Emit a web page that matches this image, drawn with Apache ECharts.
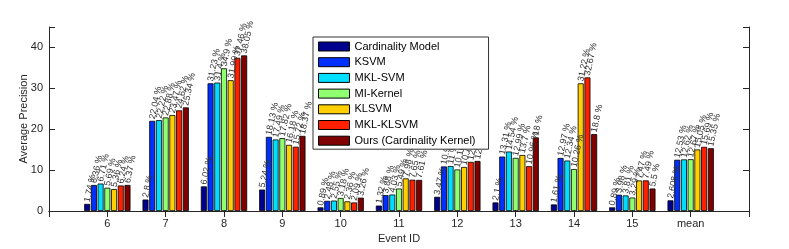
<!DOCTYPE html>
<html>
<head>
<meta charset="utf-8">
<script src="https://cdn.jsdelivr.net/npm/echarts@6/dist/echarts.min.js"></script>
<style>html,body{margin:0;padding:0;background:#fff}#c{width:789px;height:249px}</style>
</head>
<body>
<div id="c"></div>
<script>
const categories = ['6','7','8','9','10','11','12','13','14','15','mean'];
const seriesNames = ['Cardinality Model','KSVM','MKL-SVM','MI-Kernel','KLSVM','MKL-KLSVM','Ours (Cardinality Kernel)'];
const cardinalityModel = [1.74, 2.8, 6.02, 5.24, 0.89, 1.32, 3.47, 2.1, 1.61, 0.89, 2.608];
const ksvm      = [6.36, 22.04, 31.23, 18.13, 2.48, 3.88, 10.9, 13.31, 12.97, 3.98, 12.53];
const mklSvm    = [6.71, 22.22, 31.4, 17.49, 2.55, 4.03, 11, 14.54, 12.34, 3.81, 12.62];
const miKernel  = [5.69, 22.88, 34.9, 17.82, 3.18, 5.49, 10.16, 12.99, 10.26, 3.29, 12.67];
const klsvm     = [5.36, 23.47, 31.99, 16.18, 2.36, 7.98, 10.77, 13.7, 31.22, 7.47, 15.05];
const mklKlsvm  = [6.24, 24.62, 37.46, 15.72, 2.09, 7.65, 12.01, 10.96, 32.67, 7.49, 15.69];
const ours      = [6.37, 25.34, 38.05, 18.37, 3.26, 7.61, 12.24, 18, 18.8, 5.5, 15.35];
const yTicks = [0, 10, 20, 30, 40];

const allValues = [cardinalityModel, ksvm, mklSvm, miKernel, klsvm, mklKlsvm, ours];
const colors = ['#00008F','#0030FF','#00DFFF','#8FFF70','#FFCF00','#FF2000','#800000'];
const font = '"Liberation Sans", Arial, sans-serif';
const axisColor = '#262626';

const axisData = [''].concat(categories, ['']);

const series = allValues.map((vals, i) => ({
  name: seriesNames[i],
  type: 'bar',
  data: [null].concat(vals, [null]),
  barWidth: 6,
  barGap: '12%',
  itemStyle: { color: colors[i], borderColor: '#000', borderWidth: 0.8 },
  label: {
    show: true,
    position: 'top',
    rotate: 78,
    align: 'left',
    verticalAlign: 'middle',
    distance: 2,
    fontSize: 9,
    fontFamily: font,
    color: '#333',
    formatter: p => p.value == null ? '' : p.value + ' %'
  },
  emphasis: { disabled: true },
  animation: false
}));

const chart = echarts.init(document.getElementById('c'), null, { renderer: 'canvas' });
chart.setOption({
  animation: false,
  color: colors,
  grid: { left: 49, right: 40, top: 27, bottom: 36, containLabel: false },
  legend: {
    orient: 'vertical',
    left: 313,
    top: 37,
    padding: [4, 13, 3, 5],
    itemWidth: 31,
    itemHeight: 9,
    itemGap: 4.7,
    icon: 'rect',
    borderColor: '#333',
    borderWidth: 1,
    backgroundColor: '#fff',
    data: seriesNames,
    textStyle: { fontSize: 11, fontFamily: font, color: '#000', lineHeight: 9 },
    itemStyle: { borderColor: '#000', borderWidth: 1 }
  },
  xAxis: [{
    type: 'category',
    data: axisData,
    boundaryGap: false,
    name: 'Event ID',
    nameLocation: 'middle',
    nameGap: 22,
    nameMoveOverlap: false,
    nameTextStyle: { fontSize: 11, fontFamily: font, color: axisColor },
    axisLine: { show: true, lineStyle: { color: axisColor, width: 1 } },
    axisTick: { show: true, inside: true, length: 6, alignWithLabel: true, lineStyle: { color: axisColor } },
    axisLabel: { show: true, interval: 0, margin: 7, fontSize: 11, fontFamily: font, color: axisColor },
    splitLine: { show: false }
  }, {
    type: 'category',
    data: axisData,
    boundaryGap: false,
    position: 'top',
    axisLine: { show: true, lineStyle: { color: axisColor, width: 1 } },
    axisTick: { show: true, inside: true, length: 6, lineStyle: { color: axisColor } },
    axisLabel: { show: false },
    splitLine: { show: false }
  }],
  yAxis: [{
    type: 'value',
    min: 0,
    max: 45,
    interval: 10,
    name: 'Average Precision',
    nameLocation: 'middle',
    nameGap: 20,
    nameMoveOverlap: false,
    nameTextStyle: { fontSize: 11, fontFamily: font, color: axisColor },
    axisLine: { show: true, lineStyle: { color: axisColor, width: 1 } },
    axisTick: { show: true, inside: true, length: 6, lineStyle: { color: axisColor } },
    axisLabel: { margin: 6, fontSize: 11, fontFamily: font, color: axisColor,
      formatter: v => yTicks.indexOf(v) >= 0 ? String(v) : '' },
    splitLine: { show: false }
  }, {
    type: 'value',
    min: 0,
    max: 45,
    interval: 10,
    position: 'right',
    axisLine: { show: true, lineStyle: { color: axisColor, width: 1 } },
    axisTick: { show: true, inside: true, length: 6, lineStyle: { color: axisColor } },
    axisLabel: { show: false },
    splitLine: { show: false }
  }],
  series: series
});
</script>
</body>
</html>
